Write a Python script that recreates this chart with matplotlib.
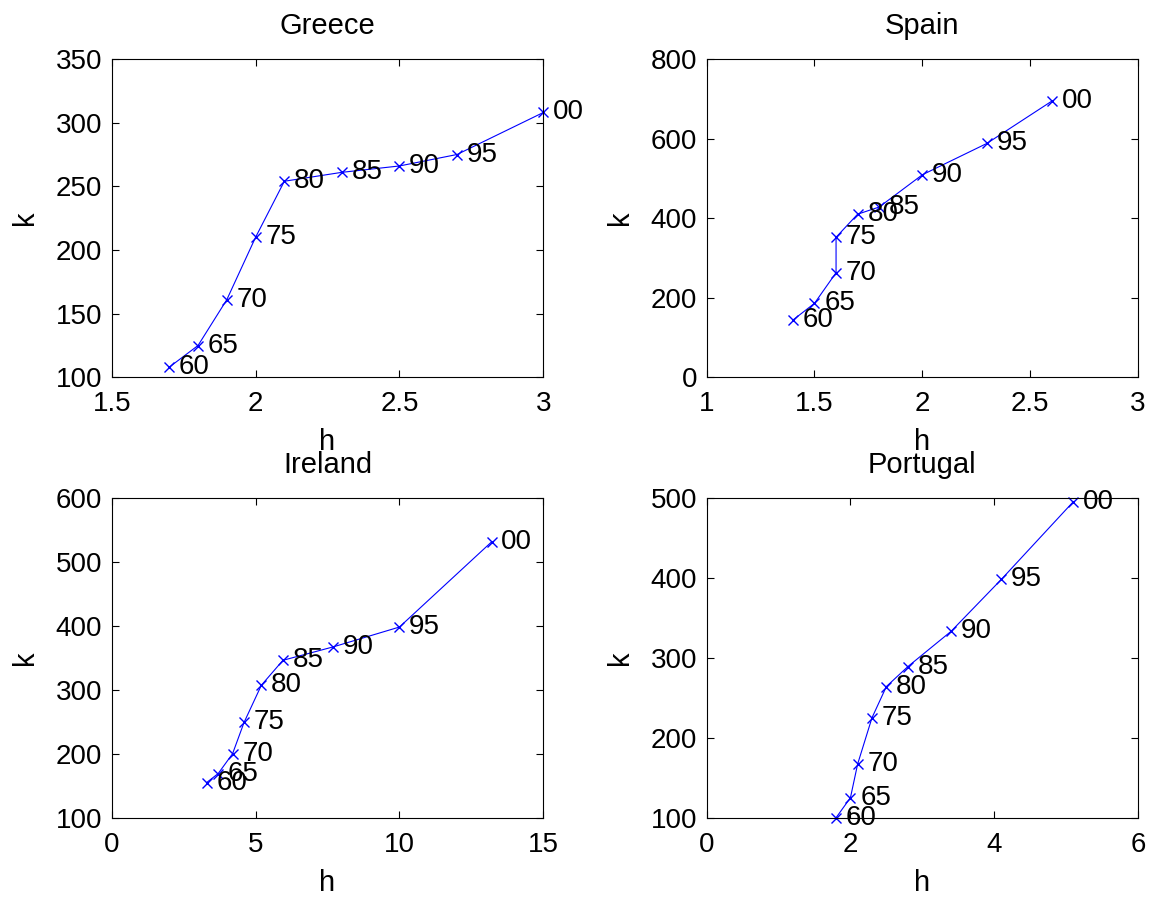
import matplotlib.pyplot as plt

plt.rcParams['font.family'] = ['Liberation Sans', 'DejaVu Sans']
plt.rcParams['font.size'] = 20

years = ['60', '65', '70', '75', '80', '85', '90', '95', '00']

greece_h = [1.7, 1.8, 1.9, 2.0, 2.1, 2.3, 2.5, 2.7, 3.0]
greece_k = [108, 125, 161, 210, 254, 261, 266, 275, 308]

spain_h = [1.4, 1.5, 1.6, 1.6, 1.7, 1.8, 2.0, 2.3, 2.6]
spain_k = [144, 186, 263, 352, 410, 428, 509, 588, 694]

ireland_h = [3.3, 3.7, 4.2, 4.6, 5.2, 5.95, 7.7, 10.0, 13.2]
ireland_k = [155, 169, 200, 249, 307, 346, 367, 398, 531]

portugal_h = [1.8, 2.0, 2.1, 2.3, 2.5, 2.8, 3.4, 4.1, 5.1]
portugal_k = [100, 125, 167, 225, 264, 289, 333, 398, 495]

panels = [
    ('Greece', greece_h, greece_k, (1.5, 3), [1.5, 2, 2.5, 3], (100, 350), [100, 150, 200, 250, 300, 350]),
    ('Spain', spain_h, spain_k, (1, 3), [1, 1.5, 2, 2.5, 3], (0, 800), [0, 200, 400, 600, 800]),
    ('Ireland', ireland_h, ireland_k, (0, 15), [0, 5, 10, 15], (100, 600), [100, 200, 300, 400, 500, 600]),
    ('Portugal', portugal_h, portugal_k, (0, 6), [0, 2, 4, 6], (100, 500), [100, 200, 300, 400, 500]),
]

positions = [
    [0.0963, 0.5798, 0.3721, 0.3545],
    [0.6092, 0.5798, 0.3718, 0.3545],
    [0.0963, 0.0894, 0.3721, 0.3563],
    [0.6092, 0.0894, 0.3718, 0.3563],
]

fig = plt.figure(figsize=(11.6, 8.98), dpi=100)

for (title, h, k, xl, xt, yl, yt), pos in zip(panels, positions):
    ax = fig.add_axes(pos)
    ax.plot(h, k, color='blue', marker='x', markersize=7, linewidth=0.8, clip_on=False)
    for x, y, lab in zip(h, k, years):
        ax.annotate(lab, (x, y), xytext=(7, 0), textcoords='offset points',
                    ha='left', va='center', fontsize=20, annotation_clip=False)
    ax.set_xlim(xl)
    ax.set_ylim(yl)
    ax.set_xticks(xt)
    ax.set_yticks(yt)
    ax.set_xticklabels([('%g' % v) for v in xt])
    ax.tick_params(direction='in', top=True, right=True, length=5, labelsize=20)
    ax.tick_params(axis='x', pad=10)
    ax.tick_params(axis='y', pad=7)
    ax.set_title(title, fontsize=21, pad=18)
    ax.set_xlabel('h', fontsize=21, labelpad=8)
    ax.set_ylabel('k', fontsize=21, labelpad=12)

fig.savefig('out.png', dpi=100)
